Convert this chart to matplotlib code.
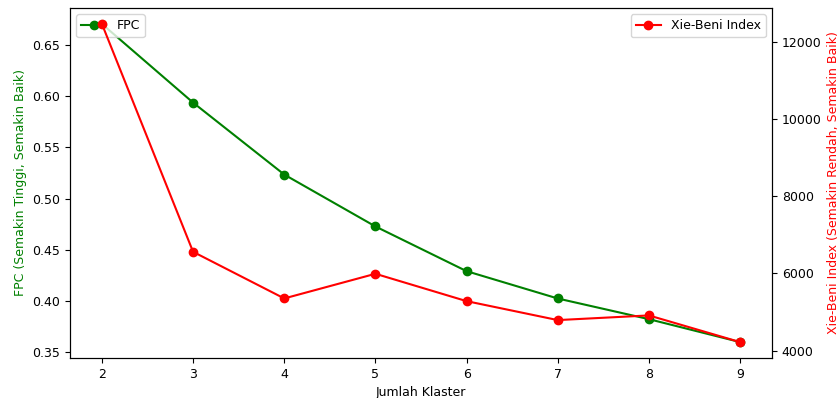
import matplotlib
matplotlib.use("Agg")
import matplotlib.pyplot as plt

clusters = [2, 3, 4, 5, 6, 7, 8, 9]
fpc = [0.6707, 0.5938, 0.5235, 0.4728, 0.4291, 0.4024, 0.3822, 0.3598]
xie_beni = [12466, 6561, 5353, 5992, 5283, 4792, 4913, 4222]

plt.rcParams["font.size"] = 9

DPI = 100
fig, ax1 = plt.subplots(figsize=(839 / DPI, 398 / DPI), dpi=DPI)
fig.subplots_adjust(left=70 / 839, right=772 / 839, top=1 - 8 / 398, bottom=1 - 358 / 398)

ax1.plot(clusters, fpc, color="green", marker="o", label="FPC")
ax1.set_xlabel("Jumlah Klaster")
ax1.set_ylabel("FPC (Semakin Tinggi, Semakin Baik)", color="green")
ax1.legend(loc="upper left")

ax2 = ax1.twinx()
ax2.plot(clusters, xie_beni, color="red", marker="o", label="Xie-Beni Index")
ax2.set_ylabel("Xie-Beni Index (Semakin Rendah, Semakin Baik)", color="red")
ax2.legend(loc="upper right")

fig.savefig("out.png", dpi=DPI)
